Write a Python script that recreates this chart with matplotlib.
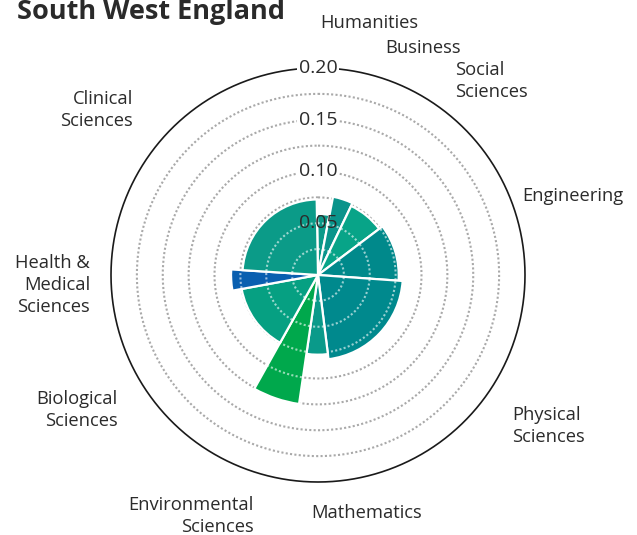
import numpy as np
import matplotlib
matplotlib.use("Agg")
import matplotlib.pyplot as plt

# ---- data -------------------------------------------------------------
title = "South West England"
categories = [
    "Humanities", "Business", "Social\nSciences", "Engineering",
    "Physical\nSciences", "Mathematics", "Environmental\nSciences",
    "Biological\nSciences", "Health &\nMedical\nSciences", "Clinical\nSciences",
]
values = [0.059, 0.077, 0.074, 0.078, 0.082, 0.077, 0.126, 0.075, 0.084, 0.073]
shares = [0.033, 0.041, 0.076, 0.114, 0.219, 0.043, 0.058, 0.140, 0.039, 0.237]
colors = ["#0b9a89", "#0a948b", "#08a488", "#00898b", "#00898d",
          "#0a9a8a", "#00a84c", "#06a082", "#0a5fb0", "#0b9b88"]
tick_values = [0.05, 0.10, 0.15, 0.20]
tick_labels = ["0.05", "0.10", "0.15", "0.20"]
grid_values = [0.025, 0.05, 0.075, 0.10, 0.125, 0.15, 0.175]

# ---- layout -----------------------------------------------------------
W, H, DPI = 637, 535, 100
CX, CY, R = 318, 275, 207          # centre and outer radius in pixels
START_DEG = -1.0                   # angle where the first wedge begins
# label anchors: pixel offset from the centre (dx, dy up) and alignment
label_pos = {
    "Humanities": (2, 252, "left"),
    "Business": (67, 227, "left"),
    "Social\nSciences": (137, 194, "left"),
    "Engineering": (204, 79, "left"),
    "Physical\nSciences": (194, -151, "left"),
    "Mathematics": (-7, -238, "left"),
    "Environmental\nSciences": (-64, -241, "right"),
    "Biological\nSciences": (-200, -135, "right"),
    "Health &\nMedical\nSciences": (-228, -10, "right"),
    "Clinical\nSciences": (-185, 165, "right"),
}

plt.rcParams["font.family"] = ["Open Sans", "DejaVu Sans"]
text_color = "#2b2b2b"
dots = (0, (1, 1.1))

fig = plt.figure(figsize=(W / DPI, H / DPI), dpi=DPI)
ax = fig.add_axes([(CX - R) / W, (H - CY - R) / H, 2 * R / W, 2 * R / H],
                  projection="polar")
ax.set_theta_zero_location("N")
ax.set_theta_direction(-1)
rmax = tick_values[-1]
ax.set_ylim(0, rmax)
ax.set_xticks([])
ax.set_yticks([])
ax.grid(False)
ax.spines["polar"].set_visible(False)
ax.patch.set_alpha(0)

full = np.linspace(0, 2 * np.pi, 721)

# dotted rings behind the wedges
for g in grid_values:
    ax.plot(full, np.full_like(full, g), color="#a9a9a9", lw=1.5,
            linestyle=dots, zorder=1)
# solid outer ring
ax.plot(full, np.full_like(full, rmax), color="#1a1a1a", lw=1.2,
        zorder=2, clip_on=False)

# white backgrounds for the scale labels (cut the rings)
for v, t in zip(tick_values, tick_labels):
    ax.text(0, v, t, ha="center", va="center", fontsize=14, color="white",
            zorder=2.5, bbox=dict(boxstyle="square,pad=0.08", fc="white",
                                  ec="none"))

# wedges
widths = np.radians(np.array(shares) * 360.0)
starts = np.radians(START_DEG) + np.concatenate([[0], np.cumsum(widths)[:-1]])
mids = starts + widths / 2
ax.bar(mids, values, width=widths, bottom=0, color=colors,
       edgecolor="white", linewidth=1.6, align="center", zorder=3)

# light dotted rings on top of the wedges
for s, w, v in zip(starts, widths, values):
    arc = np.linspace(s + 0.01, s + w - 0.01, 80)
    for g in grid_values:
        if g < v - 0.002:
            ax.plot(arc, np.full_like(arc, g), color="white", alpha=0.6,
                    lw=1.5, linestyle=dots, zorder=3.5)

# scale labels
for v, t in zip(tick_values, tick_labels):
    ax.text(0, v, t, ha="center", va="center", fontsize=14,
            color=text_color, zorder=5)

# category labels
for name in categories:
    dx, dy, ha = label_pos[name]
    ax.annotate(name, xy=(0, 0), xytext=(dx, dy), textcoords="offset pixels",
                ha=ha, va="center", multialignment=ha, fontsize=13.2,
                linespacing=1.3, color=text_color, zorder=5,
                annotation_clip=False)

fig.text(17 / W, 1 - 19 / H, title, ha="left", va="baseline",
         fontsize=19.5, fontweight="bold", color="#2a2a2a")

fig.savefig("out.png", dpi=DPI)
